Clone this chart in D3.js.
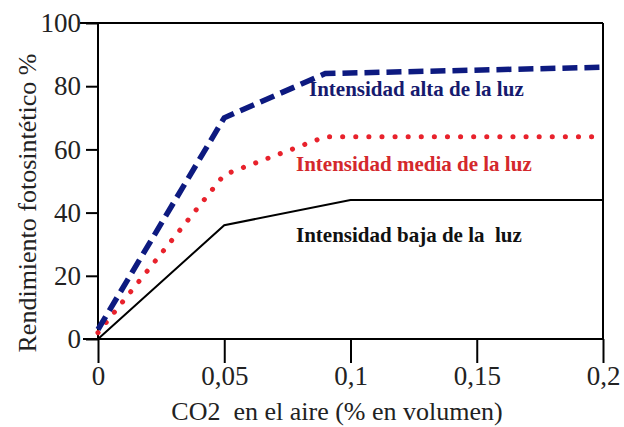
<!DOCTYPE html>
<html>
<head>
<meta charset="utf-8">
<script src="https://cdn.jsdelivr.net/npm/d3@7"></script>
<style>
  @font-face { font-family: "ChartSerif"; src: local("Liberation Serif"), local("LiberationSerif"), local("Tinos"); font-weight: normal; }
  @font-face { font-family: "ChartSerif"; src: local("Liberation Serif Bold"), local("LiberationSerif-Bold"), local("Tinos Bold"); font-weight: bold; }
</style>
</head>
<body style="margin:0">
<script>
// DATA
const co2Alta = [0, 0.05, 0.09, 0.2];
const valAlta = [3, 70, 84, 86];
const co2Media = [0, 0.05, 0.09, 0.2];
const valMedia = [2, 52, 64, 64];
const co2Baja = [0, 0.05, 0.1, 0.2];
const valBaja = [0, 36, 44, 44];
const xTicks = [0, 0.05, 0.1, 0.15, 0.2];
const xTickLabels = ["0", "0,05", "0,1", "0,15", "0,2"];
const yTicks = [0, 20, 40, 60, 80, 100];
const seriesLabels = ["Intensidad alta de la luz", "Intensidad media de la luz", "Intensidad baja de la  luz"];

const width = 624, height = 427,
  margin = { top: 23, bottom: 88, left: 98, right: 21 },
  fontList = '"Liberation Serif", "ChartSerif", Tinos, "Times New Roman", FreeSerif, serif';

const svg = d3.select("body").append("svg")
  .attr("width", width)
  .attr("height", height)
  .style("font-family", fontList);

const xScale = d3.scaleLinear().domain([0, 0.2]).range([margin.left, width - margin.right]);
const yScale = d3.scaleLinear().domain([0, 100]).range([height - margin.bottom, margin.top]);

// frame
svg.append("line")
  .attr("x1", xScale(0) - 18).attr("x2", xScale(0.2))
  .attr("y1", yScale(100)).attr("y2", yScale(100))
  .attr("stroke", "#000").attr("stroke-width", 2);
svg.append("line")
  .attr("x1", xScale(0.2)).attr("x2", xScale(0.2))
  .attr("y1", yScale(100)).attr("y2", yScale(0))
  .attr("stroke", "#000").attr("stroke-width", 2);
svg.append("line")
  .attr("x1", xScale(0) - 15).attr("x2", xScale(0.2))
  .attr("y1", yScale(0)).attr("y2", yScale(0))
  .attr("stroke", "#000").attr("stroke-width", 2);

// axes
const xAxis = d3.axisBottom(xScale)
  .tickValues(xTicks)
  .tickFormat((d, i) => xTickLabels[i])
  .tickSize(24).tickPadding(3);
const gx = svg.append("g")
  .attr("transform", `translate(0,${yScale(0)})`)
  .call(xAxis)
  .attr("font-family", null);
gx.select(".domain").remove();
gx.selectAll("line").attr("stroke-width", 2);
gx.selectAll("text").attr("font-size", 27).attr("fill", "#222")
  .style("font-family", d => fontList);

const yAxis = d3.axisLeft(yScale)
  .tickValues(yTicks)
  .tickSize(12).tickPadding(5);
const gy = svg.append("g")
  .attr("transform", `translate(${xScale(0)},0)`)
  .call(yAxis)
  .attr("font-family", null);
gy.select(".domain").attr("stroke-width", 2).attr("d", `M0,${yScale(100)}V${yScale(0)}`);
gy.selectAll("line").attr("stroke-width", 2);
gy.selectAll("text").attr("font-size", 27).attr("fill", "#222")
  .style("font-family", d => fontList);

// lines
const line = d3.line().x(d => xScale(d[0])).y(d => yScale(d[1]));

svg.append("path")
  .datum(d3.zip(co2Baja, valBaja))
  .attr("d", line)
  .attr("fill", "none").attr("stroke", "#000").attr("stroke-width", 2);

svg.append("path")
  .datum(d3.zip(co2Media, valMedia))
  .attr("d", line)
  .attr("fill", "none").attr("stroke", "#e8222c").attr("stroke-width", 5)
  .attr("stroke-linecap", "round")
  .attr("stroke-dasharray", "0.1 13");

svg.append("path")
  .datum(d3.zip(co2Alta, valAlta))
  .attr("d", line)
  .attr("fill", "none").attr("stroke", "#0d1a80").attr("stroke-width", 5.5)
  .attr("stroke-dasharray", "15 7");

// series labels
const labelPos = [
  { x: 309, y: 96, color: "#161a6e" },
  { x: 296, y: 171, color: "#d4282c" },
  { x: 296, y: 242, color: "#111" }
];
svg.selectAll(".serie-label").data(labelPos).join("text")
  .attr("class", "serie-label")
  .attr("x", d => d.x).attr("y", d => d.y)
  .attr("font-size", 21).attr("font-weight", "bold").attr("fill", d => d.color)
  .style("font-family", d => fontList)
  .style("white-space", "pre")
  .text((d, i) => seriesLabels[i]);

// axis titles
svg.append("text")
  .attr("x", 337).attr("y", 420)
  .attr("text-anchor", "middle")
  .attr("font-size", 26).attr("fill", "#222")
  .style("font-family", fontList).style("white-space", "pre")
  .text("CO2  en el aire (% en volumen)");
svg.append("text")
  .attr("transform", "translate(36,203) rotate(-90)")
  .attr("text-anchor", "middle")
  .attr("font-size", 26).attr("fill", "#222")
  .style("font-family", fontList)
  .text("Rendimiento fotosintético %");
</script>
</body>
</html>
